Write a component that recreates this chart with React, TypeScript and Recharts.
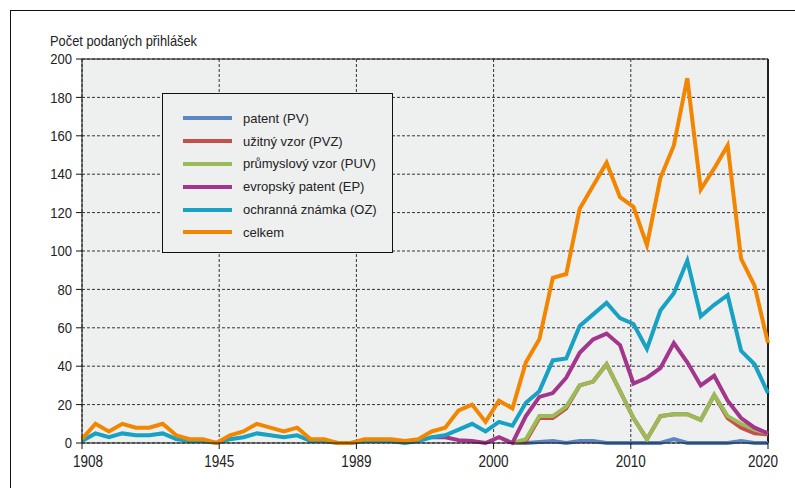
import React from 'react';
import { LineChart, Line, XAxis, YAxis, CartesianGrid, Legend, ReferenceLine } from 'recharts';

// x positions are category slots 0..51 (20 historical points, then yearly 1989..2020)
const xTickPos = [0, 10.2, 20.4, 30.6, 40.8, 51];
const xTickLabels = ['1908', '1945', '1989', '2000', '2010', '2020'];
const yTicks = [0, 20, 40, 60, 80, 100, 120, 140, 160, 180, 200];

const seriesNames = ['patent (PV)', 'užitný vzor (PVZ)', 'průmyslový vzor (PUV)', 'evropský patent (EP)', 'ochranná známka (OZ)', 'celkem'];
const seriesKeys = ['pv', 'pvz', 'puv', 'ep', 'oz', 'celkem'];
const seriesColors = ['#5B86C3', '#C5504B', '#9BBB59', '#A3358D', '#17A1C3', '#F28600'];

const slotCount = 52;

const celkem = [
  2, 10, 6, 10, 8, 8, 10, 4, 2, 2, 0, 4, 6, 10, 8, 6, 8, 2, 2, 0,
  0, 2, 2, 2, 1, 2, 6, 8, 17, 20,
  11, 22, 18, 42, 54, 86, 88, 122, 134, 146, 128, 123, 103, 138, 155, 190, 132, 143, 155, 96, 82, 52,
];
const oz = [
  1, 5, 3, 5, 4, 4, 5, 2, 1, 1, 0, 2, 3, 5, 4, 3, 4, 1, 1, 0,
  0, 1, 1, 1, 0, 1, 3, 4, 7, 10,
  6, 11, 9, 21, 27, 43, 44, 61, 67, 73, 65, 62, 49, 69, 78, 95, 66, 72, 77, 48, 41, 26,
];
const epStart = 26;
const ep = [3, 3, 1.5, 1, 0, 3, 0, 14, 24, 26, 34, 47, 54, 57, 51, 31, 34, 39, 52, 42, 30, 35, 22, 13, 8, 5];
const lowStart = 32;
const puv = [0, 2, 14, 14, 19, 30, 32, 41, 27, 13, 2, 14, 15, 15, 12, 25, 14, 10, 7, 5];
const pvz = [0, 1, 13, 13, 18, 30, 32, 41, 27, 13, 2, 14, 15, 15, 12, 25, 13, 8, 5, 4.5];
const pv = [0, 0, 0.5, 1, 0, 1, 1, 0, 0, 0, 0, 0, 2, 0, 0, 0, 0, 1, 0, 0];

const rows = Array.from({ length: slotCount }, (_, i) => ({
  i,
  celkem: celkem[i],
  oz: oz[i],
  ep: i >= epStart ? ep[i - epStart] : null,
  puv: i >= lowStart ? puv[i - lowStart] : null,
  pvz: i >= lowStart ? pvz[i - lowStart] : null,
  pv: i >= lowStart ? pv[i - lowStart] : null,
}));

const FONT = "'Liberation Sans', Arial, sans-serif";
const TEXT = '#222';

const XTick = (props: any) => {
  const { x, y, payload, index } = props;
  const idx = xTickPos.indexOf(payload.value);
  const shift = idx === 0 ? 6 : idx === xTickPos.length - 1 ? -5 : 0;
  return (
    <text
      transform={`translate(${x + shift},${y}) scale(0.82,1)`}
      x={0}
      y={0}
      dy="0.71em"
      textAnchor="middle"
      fill={TEXT}
      fontSize={16.5}
      fontFamily={FONT}
    >
      {xTickLabels[idx >= 0 ? idx : index]}
    </text>
  );
};

const YTick = (props: any) => {
  const { x, y, payload } = props;
  return (
    <text
      transform={`translate(${x},${y}) scale(0.9,1)`}
      x={0}
      y={0}
      dy="0.355em"
      textAnchor="end"
      fill={TEXT}
      fontSize={14.5}
      fontFamily={FONT}
    >
      {payload.value}
    </text>
  );
};

const LegendBox = () => (
  <div
    style={{
      width: 231,
      height: 160,
      boxSizing: 'border-box',
      border: '1px solid #111',
      background: '#EEEFEF',
      paddingTop: 13,
      fontFamily: FONT,
      fontSize: 13,
      color: TEXT,
    }}
  >
    {seriesNames.map((name, k) => (
      <div key={name} style={{ display: 'flex', alignItems: 'center', height: 22.8 }}>
        <span style={{ display: 'inline-block', width: 49, height: 4, marginLeft: 20, background: seriesColors[k] }} />
        <span style={{ marginLeft: 11, whiteSpace: 'nowrap' }}>{name}</span>
      </div>
    ))}
  </div>
);

export default function App() {
  return (
    <div style={{ position: 'absolute', left: 0, top: 0, width: 795, height: 488, background: '#fff', overflow: 'hidden' }}>
      <div style={{ position: 'absolute', left: 10, top: 10, width: 785, height: 1, background: '#111' }} />
      <div style={{ position: 'absolute', left: 10, top: 10, width: 1, height: 478, background: '#111' }} />
      <div
        style={{
          position: 'absolute',
          left: 50,
          top: 32,
          fontFamily: FONT,
          fontSize: 15,
          color: TEXT,
          whiteSpace: 'nowrap',
          transform: 'scale(0.856,1)',
          transformOrigin: 'left top',
        }}
      >
        Počet podaných přihlášek
      </div>
      <div style={{ position: 'absolute', left: 0, top: 0 }}>
        <LineChart width={795} height={488} data={rows} margin={{ top: 59, right: 27, bottom: 15, left: 42 }}>
          <CartesianGrid fill="#EEEFEF" stroke="#333" strokeDasharray="3 2" />
          <XAxis
            dataKey="i"
            type="number"
            domain={[0, 51]}
            ticks={xTickPos}
            interval={0}
            height={30}
            tickSize={6}
            tickMargin={6}
            axisLine={{ stroke: '#111' }}
            tickLine={{ stroke: '#111' }}
            tick={<XTick />}
          />
          <YAxis
            type="number"
            domain={[0, 200]}
            ticks={yTicks}
            interval={0}
            width={40}
            tickSize={6}
            tickMargin={4}
            axisLine={{ stroke: '#111' }}
            tickLine={{ stroke: '#111' }}
            tick={<YTick />}
          />
          <ReferenceLine y={200} stroke="#111" strokeWidth={1} />
          <ReferenceLine x={51} stroke="#222" strokeWidth={2} />
          <Legend
            layout="vertical"
            align="center"
            verticalAlign="middle"
            content={() => <LegendBox />}
            wrapperStyle={{ position: 'absolute', left: 162, top: 93, width: 231, height: 160 }}
          />
          {seriesKeys.map((key, k) => (
            <Line
              key={key}
              type="linear"
              dataKey={key}
              name={seriesNames[k]}
              stroke={seriesColors[k]}
              strokeWidth={4}
              dot={false}
              activeDot={false}
              isAnimationActive={false}
              connectNulls={false}
            />
          ))}
        </LineChart>
      </div>
    </div>
  );
}
